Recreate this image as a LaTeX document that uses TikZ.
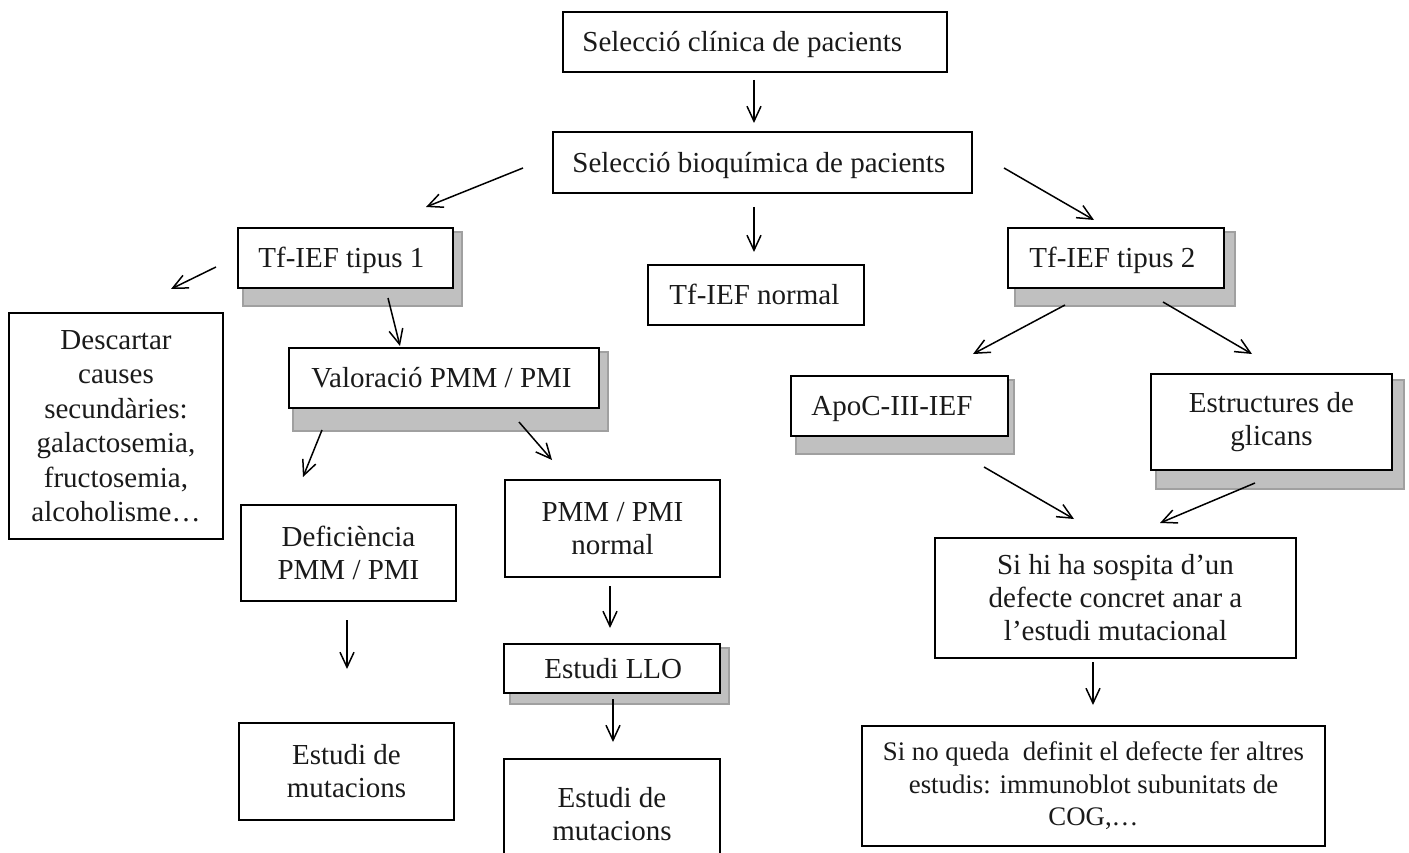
\documentclass[tikz,border=0pt]{standalone}
\usepackage{fontspec}
\setmainfont{Liberation Serif}
\usetikzlibrary{arrows.meta,calc}
\pgfdeclarelayer{bg}
\pgfsetlayers{bg,main}
\definecolor{shadefill}{HTML}{C0C0C0}
\definecolor{shadeline}{HTML}{A0A0A0}
\definecolor{ink}{HTML}{1A1A1A}
\begin{document}
\begin{tikzpicture}[x=1pt,y=-1pt,
  box/.style={draw=black, line width=1.6pt, fill=white, inner sep=0pt, text=ink,
    font=\fontsize{29}{33}\selectfont, align=center},
  lbl/.style={inner sep=0pt, anchor=west, text=ink, text height=19.5pt, text depth=0pt,
    font=\fontsize{29}{33}\selectfont},
  arr/.style={line width=1.5pt, -{Straight Barb[length=15pt,width=14pt,line width=1.5pt]}},
  shade/.style={fill=shadefill, draw=shadeline, line width=1.5pt}]
\useasboundingbox (0,0) rectangle (1409,853);
\clip (0,0) rectangle (1409,853);

% ---- boxes ----
\node[box, minimum width=384pt, minimum height=60pt] (A) at (755,42) {};
\node[lbl] (At) at ([xshift=20pt]A.west) {Selecció clínica de pacients};

\node[box, minimum width=419pt, minimum height=61pt] (B) at (762.5,162.5) {};
\node[lbl] (Bt) at ([xshift=20pt]B.west) {Selecció bioquímica de pacients};

\node[box, minimum width=215pt, minimum height=60pt] (T1) at (345.5,258) {};
\node[lbl] (T1t) at ([xshift=21pt]T1.west) {Tf-IEF tipus 1};

\node[box, minimum width=216pt, minimum height=60pt] (TN) at (756,295) {};
\node[lbl] (TNt) at ([xshift=22pt]TN.west) {Tf-IEF normal};

\node[box, minimum width=216pt, minimum height=60pt] (T2) at (1116,258) {};
\node[lbl] (T2t) at ([xshift=22pt]T2.west) {Tf-IEF tipus 2};

\node[box, minimum width=214pt, minimum height=226pt,
  font=\fontsize{29}{34.5}\selectfont] (D) at (116,426)
  {Descartar\\causes\\secundàries:\\galactosemia,\\fructosemia,\\alcoholisme…};

\node[box, minimum width=310pt, minimum height=60pt] (V) at (444,378) {};
\node[lbl] (Vt) at ([xshift=23pt]V.west) {Valoració PMM / PMI};

\node[box, minimum width=215pt, minimum height=96pt] (DF) at (348.5,553) {Deficiència\\PMM / PMI};

\node[box, minimum width=215pt, minimum height=97pt] (PN) at (612.5,528.5) {PMM / PMI\\normal};

\node[box, minimum width=216pt, minimum height=49pt] (L) at (612,668.5) {};
\node[lbl] (Lt) at ([xshift=41pt]L.west) {Estudi LLO};

\node[box, minimum width=215pt, minimum height=97pt] (M1) at (346.5,771.5) {Estudi de\\mutacions};

\node[box, minimum width=216pt, minimum height=111pt] (M2) at (612,814.5) {Estudi de\\mutacions};

\node[box, minimum width=217pt, minimum height=60pt] (AP) at (899.5,406) {};
\node[lbl] (APt) at ([xshift=21pt]AP.west) {ApoC-III-IEF};

\node[box, minimum width=241pt, minimum height=96pt] (E) at (1271.5,422) {Estructures de\\glicans};

\node[box, minimum width=361pt, minimum height=120pt] (S1) at (1115.5,598)
  {Si hi ha sospita d’un\\defecte concret anar a\\l’estudi mutacional};

\node[box, minimum width=463pt, minimum height=120pt,
  font=\fontsize{26.8}{32.5}\selectfont] (S2) at (1093.5,786)
  {Si no queda~ definit el defecte fer altres\\estudis: immunoblot subunitats de\\COG,…};

% ---- shadows ----
\begin{pgfonlayer}{bg}
\filldraw[shade] ($(T1.north west)+(6,5)$) rectangle ($(T1.south east)+(8,17)$);
\filldraw[shade] ($(T2.north west)+(8,5)$) rectangle ($(T2.south east)+(10,17)$);
\filldraw[shade] ($(V.north west)+(5,5)$) rectangle ($(V.south east)+(8,22)$);
\filldraw[shade] ($(AP.north west)+(6,5)$) rectangle ($(AP.south east)+(5,17)$);
\filldraw[shade] ($(E.north west)+(6,7)$) rectangle ($(E.south east)+(11,18)$);
\filldraw[shade] ($(L.north west)+(7,5)$) rectangle ($(L.south east)+(8,10)$);
\end{pgfonlayer}

% ---- connector ends ----
\coordinate (a1s) at (754,80);   \coordinate (a1e) at (754,123);
\coordinate (a2s) at (523,168);  \coordinate (a2e) at (426,207);
\coordinate (a3s) at (754,207);  \coordinate (a3e) at (754,252);
\coordinate (a4s) at (1004,168); \coordinate (a4e) at (1094,220);
\coordinate (a5s) at (216,267);  \coordinate (a5e) at (171,289);
\coordinate (a6s) at (388,298);  \coordinate (a6e) at (400,346);
\coordinate (a7s) at (322,430);  \coordinate (a7e) at (303,477);
\coordinate (a8s) at (519,422);  \coordinate (a8e) at (552,460);
\coordinate (a9s) at (347,620);  \coordinate (a9e) at (347,669);
\coordinate (a10s) at (610,586); \coordinate (a10e) at (610,628);
\coordinate (a11s) at (613,699); \coordinate (a11e) at (613,742);
\coordinate (a12s) at (1065,305); \coordinate (a12e) at (973,354);
\coordinate (a13s) at (1163,302); \coordinate (a13e) at (1252,354);
\coordinate (a14s) at (984,467);  \coordinate (a14e) at (1074,519);
\coordinate (a15s) at (1255,483); \coordinate (a15e) at (1160,523);
\coordinate (a16s) at (1093,662); \coordinate (a16e) at (1093,705);

\foreach \i in {1,...,16}{\draw[arr] (a\i s) -- (a\i e);}
\end{tikzpicture}
\end{document}
